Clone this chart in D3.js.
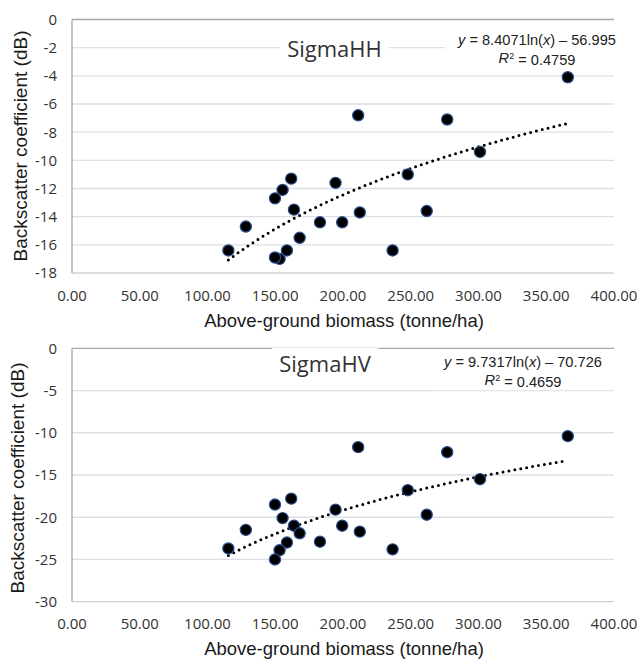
<!DOCTYPE html>
<html>
<head>
<meta charset="utf-8">
<script src="https://cdn.jsdelivr.net/npm/d3@7"></script>
<style>
body{margin:0;background:#fff;}
</style>
</head>
<body>
<script>
// biomass of the 21 plots (tonne/ha), shared by both panels
var biomass = [115.4, 128.3, 149.8, 155.4, 161.8, 163.8, 168.0, 158.6, 153.2, 149.8, 183.0,
               194.5, 199.4, 211.2, 212.4, 236.6, 247.8, 261.8, 276.9, 301.1, 365.9]
var sigmaHH = [-16.4, -14.7, -12.7, -12.1, -11.3, -13.5, -15.5, -16.4, -17.0, -16.9, -14.4,
               -11.6, -14.4, -6.8, -13.7, -16.4, -11.0, -13.6, -7.1, -9.4, -4.1]
var sigmaHV = [-23.7, -21.5, -18.5, -20.1, -17.8, -21.0, -21.9, -23.0, -23.9, -25.0, -22.9,
               -19.1, -21.0, -11.7, -21.7, -23.8, -16.8, -19.7, -12.3, -15.5, -10.4]
// log fit: y = a ln(x) + b, and R^2
var fitHH = [8.4071, -56.995, 0.4759]
var fitHV = [9.7317, -70.726, 0.4659]
var xTicks = [0, 50, 100, 150, 200, 250, 300, 350, 400]
var yTicksHH = [0, -2, -4, -6, -8, -10, -12, -14, -16, -18]
var yTicksHV = [0, -5, -10, -15, -20, -25, -30]

var svg = d3.select("body").append("svg")
    .attr("width", 639)
    .attr("height", 661)
    .style("background-color", "white")

var tickFont = "'Open Sans', 'Noto Sans', sans-serif"
var arial = "'Liberation Sans', Arial, sans-serif"

function drawPanel(p){
    var x = d3.scaleLinear().domain([0, 400]).range([72, 614])
    var y = d3.scaleLinear().domain([p.yTicks[p.yTicks.length-1], 0]).range([p.bottom, p.top])
    var g = svg.append("g")

    // gridlines
    g.selectAll(".grid").data(p.yTicks.slice(1, -1)).enter().append("line")
        .attr("x1", x(0)).attr("x2", x(400))
        .attr("y1", d => y(d)).attr("y2", d => y(d))
        .attr("stroke", "#dcdfe3").attr("stroke-width", 1.3)
    g.append("line").attr("x1", x(0)).attr("x2", x(400))
        .attr("y1", y(0)).attr("y2", y(0))
        .attr("stroke", "#a8a8a8").attr("stroke-width", 1.3)
    g.append("line").attr("x1", x(0)).attr("x2", x(400))
        .attr("y1", p.bottom).attr("y2", p.bottom)
        .attr("stroke", "#d0d0d0").attr("stroke-width", 1.3)
    g.append("line").attr("x1", x(0)).attr("x2", x(0))
        .attr("y1", p.top).attr("y2", p.bottom)
        .attr("stroke", "#a8a8a8").attr("stroke-width", 1.3)

    // tick labels
    g.selectAll(".yt").data(p.yTicks).enter().append("text")
        .attr("x", 57).attr("y", d => y(d)).attr("dy", "0.36em")
        .attr("text-anchor", "end")
        .style("font-family", tickFont).style("font-size", "15px").attr("fill", "#333")
        .text(d => d)
    g.selectAll(".xt").data(xTicks).enter().append("text")
        .attr("x", d => x(d)).attr("y", p.bottom + 27.5)
        .attr("text-anchor", "middle")
        .style("font-family", tickFont).style("font-size", "15px").attr("fill", "#333")
        .text(d3.format(".2f"))

    // axis titles
    g.append("text").attr("x", 344).attr("y", p.bottom + 53.5)
        .attr("text-anchor", "middle")
        .style("font-family", arial).style("font-size", "18.5px").attr("fill", "#1a1a1a")
        .text("Above-ground biomass (tonne/ha)")
    g.append("text")
        .attr("transform", "translate(" + p.yTitleX + "," + p.yTitleY + ") rotate(-90)")
        .attr("text-anchor", "middle")
        .style("font-family", arial).style("font-size", "19px").attr("fill", "#1a1a1a")
        .text("Backscatter coefficient (dB)")

    // panel title with white box
    var tb = g.append("rect").attr("fill", "white")
    var title = g.append("text").attr("x", p.titleX).attr("y", p.titleY)
        .attr("text-anchor", "middle")
        .style("font-family", tickFont).style("font-size", "22px").attr("fill", "#333")
        .text(p.name)
    var bb = title.node().getBBox()
    tb.attr("x", bb.x - 7).attr("y", bb.y).attr("width", bb.width + 14).attr("height", bb.height)

    // equation label
    var eb = g.append("rect").attr("fill", "white")
    var eq = g.append("g")
    var l1 = eq.append("text").attr("x", p.eqX).attr("y", p.eqY)
        .attr("text-anchor", "middle")
        .style("font-family", arial).style("font-size", "14.6px").attr("fill", "#222")
    l1.append("tspan").style("font-style", "italic").text("y")
    l1.append("tspan").text(" = " + p.fit[0] + "ln(")
    l1.append("tspan").style("font-style", "italic").text("x")
    l1.append("tspan").text(") \u2013 " + Math.abs(p.fit[1]))
    var l2 = eq.append("text").attr("x", p.eqX).attr("y", p.eqY + 18)
        .attr("text-anchor", "middle")
        .style("font-family", arial).style("font-size", "14.6px").attr("fill", "#222")
    l2.append("tspan").style("font-style", "italic").text("R")
    l2.append("tspan").attr("dy", "-0.4em").style("font-size", "9px").text("2")
    l2.append("tspan").attr("dy", "0.4em").text(" = " + p.fit[2])
    var ebb = eq.node().getBBox()
    eb.attr("x", ebb.x - 12).attr("y", ebb.y).attr("width", ebb.width + 24).attr("height", ebb.height)

    // trend line from the fitted equation
    var xmin = d3.min(biomass), xmax = d3.max(biomass)
    var curve = d3.range(0, 61).map(i => xmin + (xmax - xmin) * i / 60)
    var line = d3.line().x(d => x(d)).y(d => y(p.fit[0] * Math.log(d) + p.fit[1]))
    g.append("path").datum(curve).attr("d", line)
        .attr("fill", "none").attr("stroke", "black").attr("stroke-width", 3)
        .attr("stroke-linecap", "round").attr("stroke-dasharray", "0 6")

    // points
    g.selectAll(".pt").data(biomass).enter().append("circle")
        .attr("cx", d => x(d)).attr("cy", (d, i) => y(p.values[i]))
        .attr("r", 5.6)
        .attr("fill", "black").attr("stroke", "#2a4d8f").attr("stroke-width", 1.2)
}

drawPanel({name: "SigmaHH", values: sigmaHH, fit: fitHH, yTicks: yTicksHH,
    top: 19.5, bottom: 273, titleX: 334.5, titleY: 56.5, eqX: 537, eqY: 45,
    yTitleX: 27, yTitleY: 146})
drawPanel({name: "SigmaHV", values: sigmaHV, fit: fitHV, yTicks: yTicksHV,
    top: 348.3, bottom: 601.7, titleX: 325, titleY: 372, eqX: 523, eqY: 367,
    yTitleX: 24, yTitleY: 478})
</script>
</body>
</html>
